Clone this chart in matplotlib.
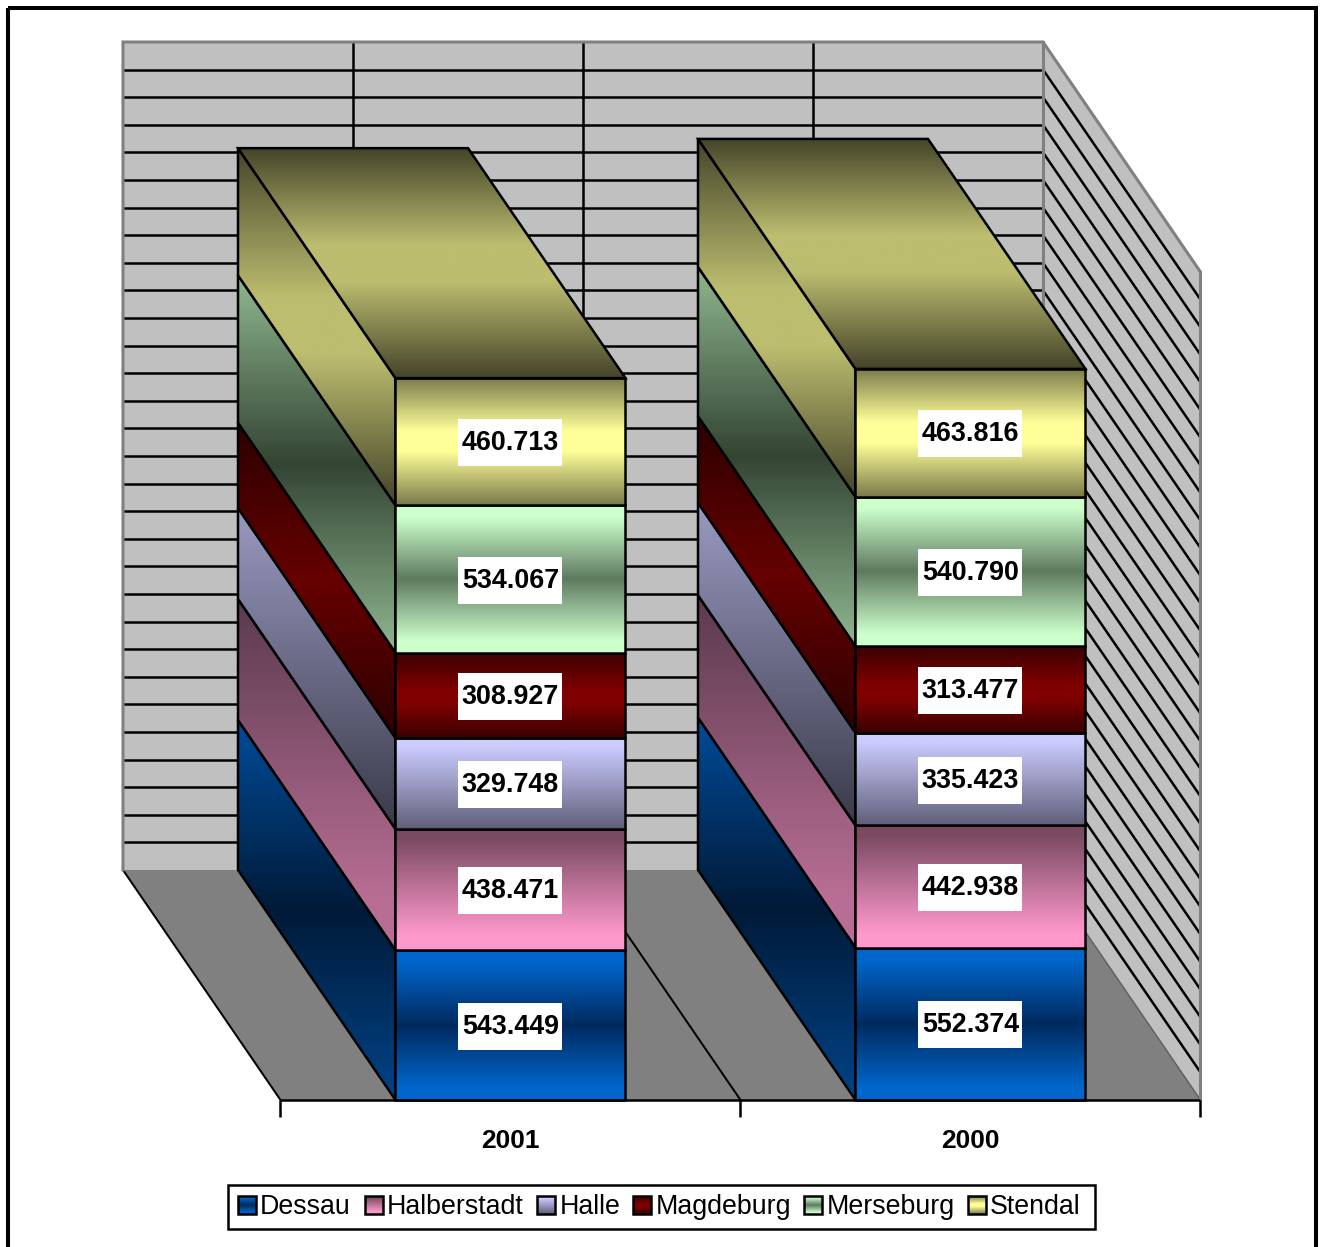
"""Stacked 3D-look column chart, 2001 vs 2000, drawn on flat axes."""

import matplotlib

matplotlib.use("Agg")
import matplotlib.pyplot as plt
import numpy as np
from matplotlib.colors import LinearSegmentedColormap
from matplotlib.patches import Polygon, Rectangle

plt.rcParams["font.family"] = ["Liberation Sans", "DejaVu Sans"]

years = ["2001", "2000"]
districts = ["Dessau", "Halberstadt", "Halle", "Magdeburg", "Merseburg", "Stendal"]
dessau = [543.449, 552.374]
halberstadt = [438.471, 442.938]
halle = [329.748, 335.423]
magdeburg = [308.927, 313.477]
merseburg = [534.067, 540.790]
stendal = [460.713, 463.816]
series = [dessau, halberstadt, halle, magdeburg, merseburg, stendal]

value_ticks = list(range(0, 3100, 100))

front_colors = [
    [(0, "#0066cc"), (0.08, "#0066cc"), (0.5, "#002a5e"), (0.92, "#0066cc"), (1, "#0066cc")],
    [(0, "#7a4a62"), (0.08, "#7a4a62"), (0.88, "#ff99cc"), (1, "#ff99cc")],
    [(0, "#ccccff"), (0.1, "#ccccff"), (1, "#5f5f7a")],
    [(0, "#3a0000"), (0.45, "#800000"), (0.6, "#800000"), (1, "#3a0000")],
    [(0, "#ccffcc"), (0.08, "#ccffcc"), (0.5, "#5f7a5f"), (0.92, "#ccffcc"), (1, "#ccffcc")],
    [(0, "#7a7a4a"), (0.42, "#ffff99"), (0.58, "#ffff99"), (1, "#7a7a4a")],
]
side_colors = [
    [(0, "#004c99"), (0.5, "#001a38"), (1, "#004488")],
    [(0, "#5a3a4e"), (0.85, "#b86e94"), (1, "#b86e94")],
    [(0, "#9a9ac2"), (1, "#3a3a4a")],
    [(0, "#2c0000"), (0.5, "#660000"), (1, "#2c0000")],
    [(0, "#90b890"), (0.5, "#334433"), (1, "#90b890")],
    [(0, "#44442a"), (0.42, "#bdbd70"), (0.58, "#bdbd70"), (1, "#44442a")],
]
top_colors = [(0, "#44442a"), (0.42, "#bdbd70"), (0.58, "#bdbd70"), (1, "#44442a")]

W, H = 1325, 1247
PX_PER_CAT = 460.0
PX_PER_VAL = 0.276
X0_PX, Y0_PX = 280.5, 1100.0
DEPTH_X = -157.5 / PX_PER_CAT
DEPTH_Y = 230.0 / PX_PER_VAL
BAR_W = 0.5
LW = 1.8


def gradient_face(ax, pts, colors, zorder):
    pts = np.asarray(pts)
    cmap = LinearSegmentedColormap.from_list("face", colors)
    img = ax.imshow(
        np.linspace(0, 1, 256).reshape(-1, 1),
        cmap=cmap,
        aspect="auto",
        origin="upper",
        interpolation="bilinear",
        extent=(pts[:, 0].min(), pts[:, 0].max(), pts[:, 1].min(), pts[:, 1].max()),
        zorder=zorder,
    )
    clip = Polygon(pts, closed=True, transform=ax.transData)
    img.set_clip_path(clip)
    ax.add_patch(Polygon(pts, closed=True, fill=False, ec="black", lw=LW, zorder=zorder + 0.1, joinstyle="miter"))


fig = plt.figure(figsize=(W / 100, H / 100), dpi=100, facecolor="white")
ax = fig.add_axes([0, 0, 1, 1])

top_val = value_ticks[-1]
n_cat = len(years)

# walls and floor
back = [(DEPTH_X, DEPTH_Y), (n_cat + DEPTH_X, DEPTH_Y), (n_cat + DEPTH_X, DEPTH_Y + top_val), (DEPTH_X, DEPTH_Y + top_val)]
right = [(n_cat + DEPTH_X, DEPTH_Y), (n_cat, 0), (n_cat, top_val), (n_cat + DEPTH_X, DEPTH_Y + top_val)]
floor = [(0, 0), (n_cat, 0), (n_cat + DEPTH_X, DEPTH_Y), (DEPTH_X, DEPTH_Y)]
ax.add_patch(Polygon(back, fc="#c0c0c0", ec="none", zorder=1))
ax.add_patch(Polygon(right, fc="#c0c0c0", ec="none", zorder=1))
ax.add_patch(Polygon(floor, fc="#808080", ec="none", zorder=1.1))

for v in value_ticks[1:-1]:
    ax.plot([DEPTH_X, n_cat + DEPTH_X], [DEPTH_Y + v] * 2, color="black", lw=LW, zorder=2, solid_capstyle="butt")
    ax.plot([n_cat + DEPTH_X, n_cat], [DEPTH_Y + v, v], color="black", lw=LW, zorder=2, solid_capstyle="butt")
for x in [0.5, 1.0, 1.5]:
    ax.plot([x + DEPTH_X] * 2, [DEPTH_Y, DEPTH_Y + top_val], color="black", lw=LW, zorder=2, solid_capstyle="butt")
for x in [0.0, 0.5, 1.0, 1.5]:
    ax.plot([x, x + DEPTH_X], [0, DEPTH_Y], color="black", lw=LW * 0.8, zorder=2)
ax.plot([n_cat, n_cat + DEPTH_X], [0, DEPTH_Y], color="#606060", lw=LW * 0.6, zorder=2)

# grey wall borders, drawn over the ends of the grid lines
border_lw = 2.2
ax.plot(
    [DEPTH_X, DEPTH_X, n_cat + DEPTH_X, n_cat, n_cat],
    [DEPTH_Y, DEPTH_Y + top_val, DEPTH_Y + top_val, top_val, 0],
    color="#808080", lw=border_lw, zorder=2.4, solid_joinstyle="miter",
)
ax.plot([n_cat + DEPTH_X] * 2, [DEPTH_Y, DEPTH_Y + top_val], color="#808080", lw=border_lw, zorder=2.5)

# stacked columns, left to right, bottom to top
z = 3.0
for c in range(n_cat):
    x0 = c + 0.5 - BAR_W / 2
    x1 = x0 + BAR_W
    base = 0.0
    for s, vals in enumerate(series):
        v = vals[c]
        y1 = base + v
        side = [(x0, base), (x0, y1), (x0 + DEPTH_X, y1 + DEPTH_Y), (x0 + DEPTH_X, base + DEPTH_Y)]
        gradient_face(ax, side, side_colors[s], z)
        front = [(x0, base), (x1, base), (x1, y1), (x0, y1)]
        gradient_face(ax, front, front_colors[s], z + 0.2)
        z += 0.5
        base = y1
    top = [(x0, base), (x1, base), (x1 + DEPTH_X, base + DEPTH_Y), (x0 + DEPTH_X, base + DEPTH_Y)]
    gradient_face(ax, top, top_colors, z)
    z += 0.5

# value labels
box_w = 104 / PX_PER_CAT
box_h = 47 / PX_PER_VAL
text_dy = -1.5 / PX_PER_VAL
for c in range(n_cat):
    base = 0.0
    for vals in series:
        v = vals[c]
        mid = base + v / 2
        ax.add_patch(Rectangle((c + 0.5 - box_w / 2, mid - box_h / 2 - 1 / PX_PER_VAL), box_w, box_h, fc="white", ec="none", zorder=z))
        ax.text(c + 0.5, mid + text_dy, f"{v:.3f}", ha="center", va="center", fontsize=19.4, fontweight="bold", color="black", zorder=z + 0.1)
        base += v

# category axis
ax.plot([0, n_cat], [0, 0], color="black", lw=LW, zorder=z, solid_capstyle="butt")
tick_len = 17 / PX_PER_VAL
for x in range(n_cat + 1):
    ax.plot([x, x], [0, -tick_len], color="black", lw=LW, zorder=z, solid_capstyle="butt")
for c, year in enumerate(years):
    ax.text(c + 0.5, -41.5 / PX_PER_VAL, year, ha="center", va="center", fontsize=19, fontweight="bold", color="black")

ax.set_xlim(-X0_PX / PX_PER_CAT, (W - X0_PX) / PX_PER_CAT)
ax.set_ylim(-(H - Y0_PX) / PX_PER_VAL, Y0_PX / PX_PER_VAL)
ax.axis("off")

# frame and legend in pixel coordinates
over = fig.add_axes([0, 0, 1, 1], facecolor="none")
over.set_xlim(0, W)
over.set_ylim(H, 0)
over.axis("off")
over.add_patch(Rectangle((8, 8), 1308, 1239 + 20, fill=False, ec="black", lw=2.9, clip_on=True))
over.add_patch(Rectangle((228, 1185), 867, 44, fc="white", ec="black", lw=LW))
swatch_x = [238, 365, 537, 633, 804, 968]
label_x = [260, 387, 560, 656, 827, 990]
for name, colors, sx, lx in zip(districts, front_colors, swatch_x, label_x):
    cmap = LinearSegmentedColormap.from_list("swatch", colors)
    over.imshow(
        np.linspace(0, 1, 64).reshape(-1, 1),
        cmap=cmap,
        aspect="auto",
        origin="upper",
        extent=(sx, sx + 18, 1214, 1196),
        zorder=3,
    )
    over.add_patch(Rectangle((sx, 1196), 18, 18, fill=False, ec="black", lw=LW, zorder=4))
    over.text(lx, 1214, name, ha="left", va="baseline", fontsize=19.3, color="black", zorder=4)
over.set_xlim(0, W)
over.set_ylim(H, 0)

fig.savefig("out.png", dpi=100)
